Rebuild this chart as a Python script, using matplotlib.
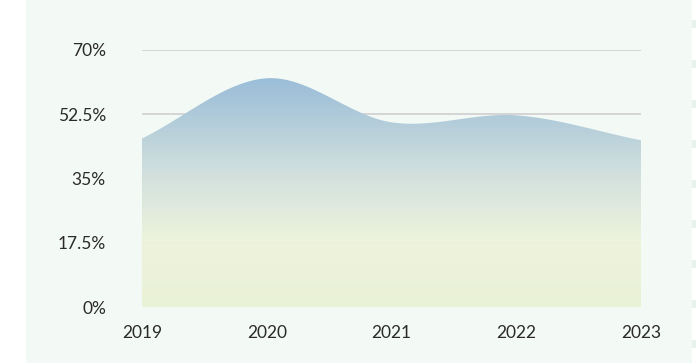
import numpy as np
import matplotlib.pyplot as plt
from matplotlib.colors import LinearSegmentedColormap
from matplotlib.patches import Rectangle

years = ["2019", "2020", "2021", "2022", "2023"]
share = [45.9, 62.3, 50.3, 52.2, 45.4]
y_ticks = [0, 17.5, 35, 52.5, 70]
y_labels = ["0%", "17.5%", "35%", "52.5%", "70%"]


def smooth(x, y, n=40):
    # catmull-rom style curve through the points
    x = np.asarray(x, float)
    y = np.asarray(y, float)
    m = np.zeros_like(y)
    m[1:-1] = (y[2:] - y[:-2]) / (x[2:] - x[:-2])
    m[0] = (y[1] - y[0]) / (x[1] - x[0])
    m[-1] = (y[-1] - y[-2]) / (x[-1] - x[-2])
    xs, ys = [], []
    for i in range(len(x) - 1):
        h = x[i + 1] - x[i]
        t = np.linspace(0, 1, n, endpoint=False)
        h00 = 2 * t**3 - 3 * t**2 + 1
        h10 = t**3 - 2 * t**2 + t
        h01 = -2 * t**3 + 3 * t**2
        h11 = t**3 - t**2
        xs.append(x[i] + t * h)
        ys.append(h00 * y[i] + h10 * h * m[i] + h01 * y[i + 1] + h11 * h * m[i + 1])
    xs.append([x[-1]])
    ys.append([y[-1]])
    return np.concatenate(xs), np.concatenate(ys)


fig = plt.figure(figsize=(6.96, 3.63), dpi=100)
fig.patch.set_facecolor("white")
fig.patches.append(Rectangle((26 / 696, 0), 666 / 696, 1, transform=fig.transFigure,
                             facecolor="#f3f9f5", edgecolor="none", zorder=-10))
for yy in range(20, 363, 40):
    fig.patches.append(Rectangle((692 / 696, 1 - (yy + 8) / 363), 4 / 696, 8 / 363,
                                 transform=fig.transFigure, facecolor="#e6f3ea",
                                 edgecolor="none", zorder=-10))

ax = fig.add_axes([142 / 696, 1 - 307 / 363, 499 / 696, 257 / 363])
ax.set_facecolor("none")

x = np.arange(len(years))
xs, ys = smooth(x, share)

for t in y_ticks[1:]:
    ax.axhline(t, color="#d2d2d2", lw=1.3, zorder=1)

cmap = LinearSegmentedColormap.from_list(
    "fill", [(0, "#e9f1d5"), (0.25, "#eef4dc"), (0.5, "#d3e1de"), (1, "#87b1d5")])
grad = np.linspace(0, 1, 256).reshape(-1, 1)
im = ax.imshow(grad, cmap=cmap, origin="lower", aspect="auto",
               extent=[x[0], x[-1], 0, 70], zorder=2, alpha=0.97)
clip = plt.Polygon(np.column_stack([np.r_[xs, xs[::-1]], np.r_[ys, np.zeros_like(ys)]]),
                   closed=True, transform=ax.transData)
im.set_clip_path(clip)

ax.set_xlim(x[0], x[-1])
ax.set_ylim(0, 70)
ax.set_xticks(x)
ax.set_xticklabels(years)
ax.set_yticks(y_ticks)
ax.set_yticklabels(y_labels)
ax.tick_params(length=0, labelsize=12.5, labelcolor="#2a2a2a")
ax.tick_params(axis="y", pad=26)
ax.tick_params(axis="x", pad=13)
for lab in ax.get_xticklabels() + ax.get_yticklabels():
    lab.set_fontfamily("Lato")
for s in ax.spines.values():
    s.set_visible(False)

fig.savefig("out.png", dpi=100)
